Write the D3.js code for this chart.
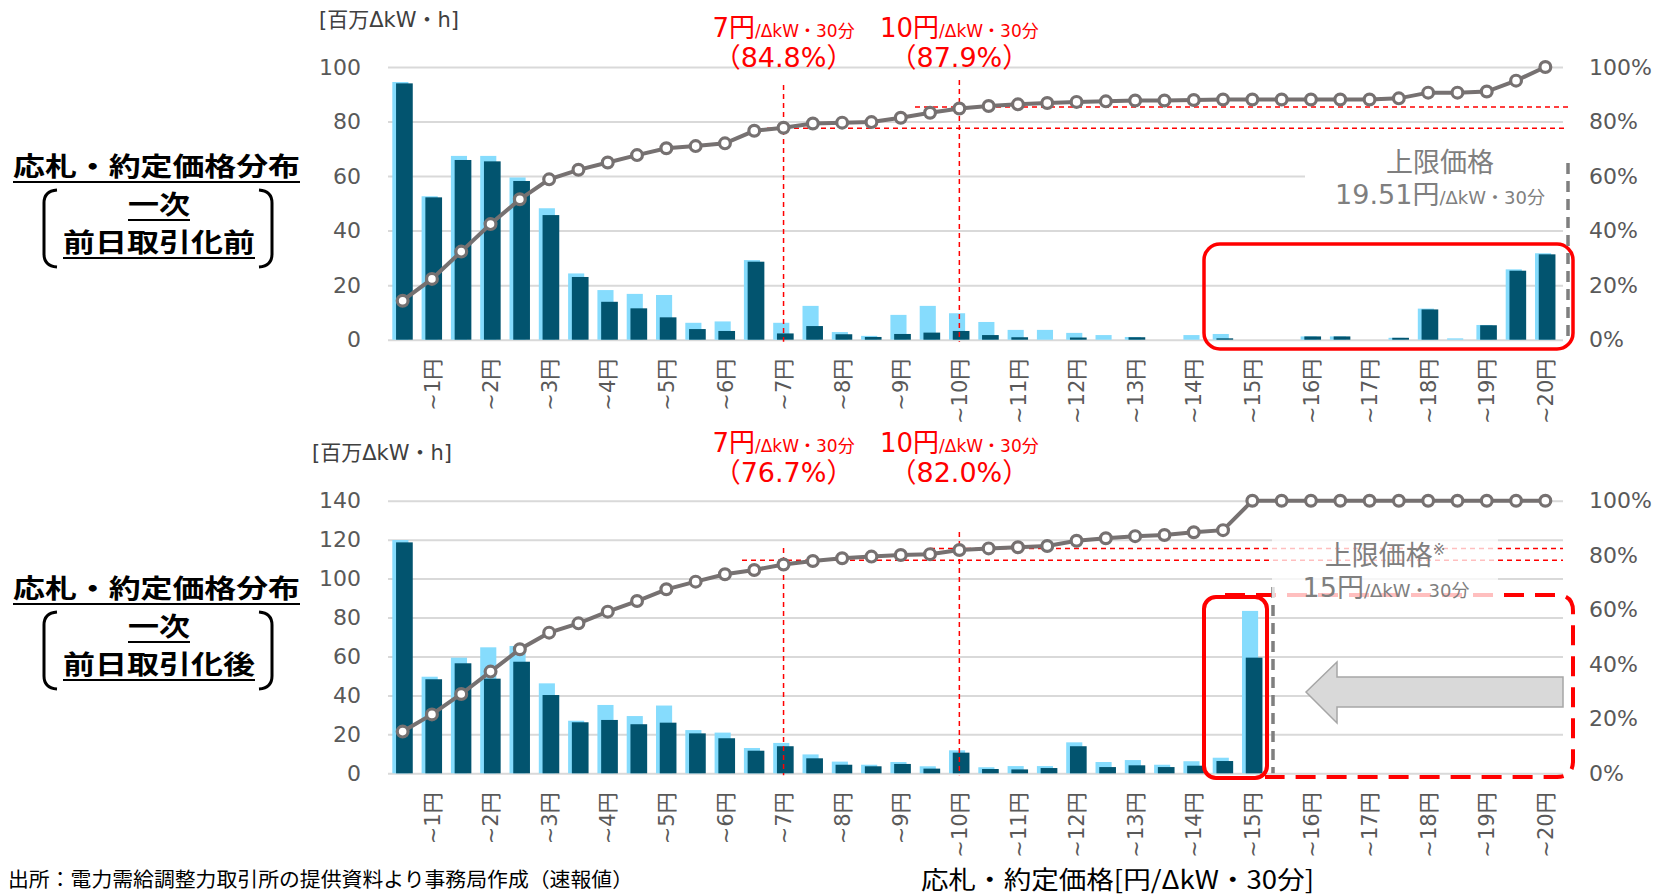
<!DOCTYPE html>
<html>
<head>
<meta charset="utf-8">
<script src="https://cdn.jsdelivr.net/npm/d3@7"></script>
<style>
  body { margin: 0; background: #fff; }
  text { font-family: "DejaVu Sans", "Noto Sans CJK JP", sans-serif; }
  .cjk { font-family: "Noto Sans CJK JP", sans-serif; }
</style>
</head>
<body>
<svg id="chart" width="1655" height="895"></svg>
<script>
// price bands (円/ΔkW・30分), 0.5円 steps
const prices = [0.5, 1, 1.5, 2, 2.5, 3, 3.5, 4, 4.5, 5, 5.5, 6, 6.5, 7, 7.5, 8, 8.5, 9, 9.5, 10,
                10.5, 11, 11.5, 12, 12.5, 13, 13.5, 14, 14.5, 15, 15.5, 16, 16.5, 17, 17.5, 18, 18.5, 19, 19.5, 20];
const tickPrices = [1, 2, 3, 4, 5, 6, 7, 8, 9, 10, 11, 12, 13, 14, 15, 16, 17, 18, 19, 20];

// 前日取引化前 [百万ΔkW・h]
const bidPre = [94.5, 52.6, 67.4, 67.4, 59.5, 48.2, 24.3, 18.2, 16.8, 16.4, 6.2, 6.7, 29.2, 6.2, 12.4, 2.8, 1.4, 9.1, 12.4, 9.7,
                6.5, 3.6, 3.6, 2.5, 1.7, 1.0, 0, 1.7, 2.1, 0, 0, 1.2, 1.2, 0, 0.7, 11.4, 0.5, 5.4, 25.8, 31.7];
const dealPre = [94.0, 52.2, 65.9, 65.4, 58.2, 45.7, 23.0, 13.9, 11.5, 8.2, 3.9, 3.2, 28.6, 2.3, 5.0, 2.0, 1.0, 2.1, 2.6, 3.2,
                 1.7, 0.9, 0, 0.8, 0, 0.9, 0, 0, 0.5, 0, 0, 1.2, 1.2, 0, 0.7, 11.1, 0, 5.3, 25.3, 31.3];
const cumPre = [14.3, 22.3, 32.3, 42.4, 51.5, 58.8, 62.3, 65.0, 67.7, 70.2, 71.0, 72.0, 76.6, 77.7, 79.3, 79.6, 79.8, 81.4, 83.2, 84.8,
                85.7, 86.3, 86.8, 87.2, 87.4, 87.7, 87.7, 87.9, 88.1, 88.1, 88.1, 88.1, 88.1, 88.1, 88.5, 90.6, 90.6, 91.0, 95.0, 100];

// 前日取引化後 [百万ΔkW・h]
const bidPost = [119.8, 49.6, 59.4, 64.7, 65.4, 46.2, 27.0, 35.1, 29.4, 34.8, 22.2, 20.9, 13.0, 15.6, 9.7, 6.0, 4.4, 5.8, 3.6, 11.8,
                 3.1, 3.7, 3.7, 15.9, 5.8, 6.8, 4.4, 6.2, 8.0, 83.4, 0, 0, 0, 0, 0, 0, 0, 0, 0, 0];
const dealPost = [118.6, 48.3, 56.5, 48.6, 57.3, 40.2, 26.2, 27.4, 25.2, 26.0, 20.5, 18.0, 11.6, 13.9, 7.7, 4.4, 3.6, 4.8, 2.4, 10.6,
                  2.2, 2.0, 2.7, 13.9, 3.2, 4.1, 3.2, 3.9, 6.3, 59.4, 0, 0, 0, 0, 0, 0, 0, 0, 0, 0];
const cumPost = [15.3, 21.6, 29.1, 37.3, 45.5, 51.6, 55.0, 59.3, 63.2, 67.5, 70.3, 73.0, 74.6, 76.6, 77.9, 78.9, 79.5, 80.1, 80.4, 81.9,
                 82.5, 82.9, 83.4, 85.3, 86.2, 87.0, 87.4, 88.4, 89.2, 100, 100, 100, 100, 100, 100, 100, 100, 100, 100, 100];

// guide annotations
const guidePrices = [7, 10];
const guideLabelsPre = ["84.8%", "87.9%"];
const guideLabelsPost = ["76.7%", "82.0%"];
const guideLevelsPre = [77.5, 85.3];   // where the dashed red lines sit (%)
const guideLevelsPost = [78.2, 82.5];

const yTicksPre = [0, 20, 40, 60, 80, 100];
const yTicksPost = [0, 20, 40, 60, 80, 100, 120, 140];
const pctTicks = [0, 0.2, 0.4, 0.6, 0.8, 1];

const LIGHT = "#86dcfd", DARK = "#02546f", LINE = "#767171", RED = "#ff0000";
const X0 = 388, X1 = 1560, GRID_END = 1563;

const svg = d3.select("#chart");

const x = d3.scaleBand().domain(prices).range([X0, X1]).padding(0);
const bw = x.bandwidth();

const panels = [
  { bid: bidPre, deal: dealPre, cum: cumPre, yTicks: yTicksPre, max: 100, bottom: 339.7, top: 67,
    gLabels: guideLabelsPre, gLevels: guideLevelsPre, gTop: [85, 80], gStart: [767, 915], labelY: 37,
    title: "前日取引化前", titleDy: 0 },
  { bid: bidPost, deal: dealPost, cum: cumPost, yTicks: yTicksPost, max: 140, bottom: 773.3, top: 500.7,
    gLabels: guideLabelsPost, gLevels: guideLevelsPost, gTop: [548, 532], gStart: [742, 930], labelY: 452,
    title: "前日取引化後", titleDy: 422 }
];

panels.forEach((p, pi) => {
  const y = d3.scaleLinear().domain([0, p.max]).range([p.bottom, p.top]);
  const yp = d3.scaleLinear().domain([0, 1]).range([p.bottom, p.top]);
  const g = svg.append("g");

  // gridlines
  const grid = g.append("g").attr("transform", `translate(${X0},0)`)
    .call(d3.axisLeft(y).tickValues(p.yTicks).tickSize(-(GRID_END - X0)).tickFormat(""));
  grid.select(".domain").remove();
  grid.selectAll("line").attr("stroke", "#d9d9d9").attr("stroke-width", 2);

  // left axis labels
  const la = g.append("g").attr("transform", `translate(${X0},0)`)
    .call(d3.axisLeft(y).tickValues(p.yTicks).tickSize(0).tickPadding(27));
  la.select(".domain").remove();
  la.selectAll("text").attr("fill", "#595959").style("font-size", "22px");

  // right axis labels
  const ra = g.append("g").attr("transform", `translate(${GRID_END},0)`)
    .call(d3.axisRight(yp).tickValues(pctTicks).tickSize(0).tickPadding(26).tickFormat(d3.format(".0%")));
  ra.select(".domain").remove();
  ra.selectAll("text").attr("fill", "#595959").style("font-size", "22px");

  // x axis labels
  const xa = g.append("g").attr("transform", `translate(0,${p.bottom})`)
    .call(d3.axisBottom(x).tickValues(tickPrices).tickSize(0).tickFormat(d => "~" + d + "円"));
  xa.select(".domain").remove();
  xa.selectAll("text")
    .attr("transform", "rotate(-90)")
    .attr("text-anchor", "end")
    .attr("x", -19).attr("y", 0).attr("dy", "0.36em")
    .attr("fill", "#595959").style("font-size", "21px");

  // unit label
  g.append("text").attr("x", pi === 0 ? 319 : 312).attr("y", pi === 0 ? 27 : 460)
    .attr("fill", "#404040").style("font-size", "21px").text("[百万ΔkW・h]");

  // bars
  g.append("g").selectAll("rect").data(p.bid).join("rect")
    .attr("x", (d, i) => x(prices[i]) + bw * 0.147)
    .attr("width", bw * 0.55)
    .attr("y", d => y(d))
    .attr("height", d => p.bottom - y(d))
    .attr("fill", LIGHT);
  g.append("g").selectAll("rect").data(p.deal).join("rect")
    .attr("x", (d, i) => x(prices[i]) + bw * 0.275)
    .attr("width", bw * 0.57)
    .attr("y", d => y(d))
    .attr("height", d => p.bottom - y(d))
    .attr("fill", DARK);

  // red boxes + cap marker
  if (pi === 0) {
    g.append("rect").attr("x", 1204).attr("y", 244).attr("width", 369).attr("height", 105)
      .attr("rx", 16).attr("fill", "none").attr("stroke", RED).attr("stroke-width", 3.5);
  } else {
    g.append("path")
      .attr("d", "M1225,595 H1557 Q1573,595 1573,611 V761 Q1573,777 1557,777 H1265")
      .attr("fill", "none").attr("stroke", RED).attr("stroke-width", 4).attr("stroke-dasharray", "20,11");
    g.append("rect").attr("x", 1204).attr("y", 597).attr("width", 63).attr("height", 181)
      .attr("rx", 12).attr("fill", "none").attr("stroke", RED).attr("stroke-width", 4);
  }

  // red guide lines
  guidePrices.forEach((gp, k) => {
    const cx = x(gp) + bw / 2;
    const ly = yp(p.gLevels[k] / 100);
    g.append("line").attr("x1", cx).attr("x2", cx).attr("y1", p.gTop[k]).attr("y2", p.bottom + 2)
      .attr("stroke", RED).attr("stroke-width", 1.5).attr("stroke-dasharray", "5,4");
    g.append("line").attr("x1", p.gStart[k]).attr("x2", pi === 0 ? 1568 : GRID_END).attr("y1", ly).attr("y2", ly)
      .attr("stroke", RED).attr("stroke-width", 1.5).attr("stroke-dasharray", "5,4");
    const t = g.append("text").attr("x", cx).attr("y", p.labelY).attr("text-anchor", "middle").attr("fill", RED);
    t.append("tspan").style("font-size", "26px").text(gp + "円");
    t.append("tspan").style("font-size", "17px").text("/ΔkW・30分");
    g.append("text").attr("x", cx).attr("y", p.labelY + 30).attr("text-anchor", "middle")
      .attr("fill", RED).style("font-size", "27px").text("（" + p.gLabels[k] + "）");
  });

  // gray dashed cap line
  if (pi === 0) {
    g.append("rect").attr("x", 1305).attr("y", 140).attr("width", 258).attr("height", 72).attr("fill", "#fff");
    g.append("line").attr("x1", 1568).attr("x2", 1568).attr("y1", 163).attr("y2", p.bottom)
      .attr("stroke", "#7f7f7f").attr("stroke-width", 3.5).attr("stroke-dasharray", "11,7");
  } else {
    g.append("line").attr("x1", 1273).attr("x2", 1273).attr("y1", 587).attr("y2", p.bottom)
      .attr("stroke", "#7f7f7f").attr("stroke-width", 3.5).attr("stroke-dasharray", "11,7");
    g.append("polygon")
      .attr("points", "1306,692 1337,662 1337,677 1563,677 1563,707 1337,707 1337,723")
      .attr("fill", "#d9d9d9").attr("stroke", "#a6a6a6").attr("stroke-width", 1.5);
    g.append("rect").attr("x", 1272).attr("y", 532).attr("width", 226).attr("height", 70)
      .attr("fill", "#fff").attr("opacity", 0.75);
  }

  // cumulative line
  const line = d3.line().x((d, i) => x(prices[i]) + bw / 2).y(d => yp(d / 100));
  g.append("path").datum(p.cum).attr("d", line)
    .attr("fill", "none").attr("stroke", LINE).attr("stroke-width", 4);
  g.append("g").selectAll("circle").data(p.cum).join("circle")
    .attr("cx", (d, i) => x(prices[i]) + bw / 2)
    .attr("cy", d => yp(d / 100))
    .attr("r", 5.4)
    .attr("fill", "#fff").attr("stroke", LINE).attr("stroke-width", 3.2);

  // cap price label
  if (pi === 0) {
    g.append("text").attr("x", 1440).attr("y", 172).attr("text-anchor", "middle")
      .attr("fill", "#7f7f7f").style("font-size", "27px").text("上限価格");
    const t = g.append("text").attr("x", 1440).attr("y", 204).attr("text-anchor", "middle").attr("fill", "#7f7f7f");
    t.append("tspan").style("font-size", "27px").text("19.51円");
    t.append("tspan").style("font-size", "18px").text("/ΔkW・30分");
  } else {
    const t1 = g.append("text").attr("x", 1385).attr("y", 565).attr("text-anchor", "middle").attr("fill", "#7f7f7f");
    t1.append("tspan").style("font-size", "27px").text("上限価格");
    t1.append("tspan").style("font-size", "15px").attr("dy", -10).text("※");
    const t2 = g.append("text").attr("x", 1386).attr("y", 597).attr("text-anchor", "middle").attr("fill", "#7f7f7f");
    t2.append("tspan").style("font-size", "27px").text("15円");
    t2.append("tspan").style("font-size", "18px").text("/ΔkW・30分");
  }

  // left panel title
  const tg = g.append("g").attr("transform", `translate(0,${p.titleDy})`);
  const titleRows = [
    { s: "応札・約定価格分布", x1: 13, x2: 300, y: 176 },
    { s: "一次", x1: 128, x2: 190, y: 214 },
    { s: p.title, x1: 63, x2: 255, y: 252 }
  ];
  titleRows.forEach(r => {
    tg.append("text").attr("class", "cjk").attr("x", r.x1).attr("y", r.y)
      .attr("textLength", r.x2 - r.x1).attr("lengthAdjust", "spacingAndGlyphs")
      .attr("font-weight", "bold").attr("fill", "#000").style("font-size", "26px").text(r.s);
    tg.append("line").attr("x1", r.x1).attr("x2", r.x2).attr("y1", r.y + 6).attr("y2", r.y + 6)
      .attr("stroke", "#000").attr("stroke-width", 2);
  });
  tg.append("path").attr("d", "M57,190 Q44,191 44,203 V254 Q44,266 57,267")
    .attr("fill", "none").attr("stroke", "#000").attr("stroke-width", 3);
  tg.append("path").attr("d", "M259,190 Q272,191 272,203 V254 Q272,266 259,267")
    .attr("fill", "none").attr("stroke", "#000").attr("stroke-width", 3);
});

// footnote and x-axis title
svg.append("text").attr("class", "cjk").attr("x", 8).attr("y", 887)
  .attr("textLength", 625).attr("lengthAdjust", "spacingAndGlyphs")
  .attr("fill", "#000").style("font-size", "20px")
  .text("出所：電力需給調整力取引所の提供資料より事務局作成（速報値）");
svg.append("text").attr("class", "cjk").attr("x", 921).attr("y", 889)
  .attr("textLength", 393).attr("lengthAdjust", "spacingAndGlyphs")
  .attr("fill", "#000").style("font-size", "25px")
  .text("応札・約定価格[円/ΔkW・30分]");
</script>
</body>
</html>
